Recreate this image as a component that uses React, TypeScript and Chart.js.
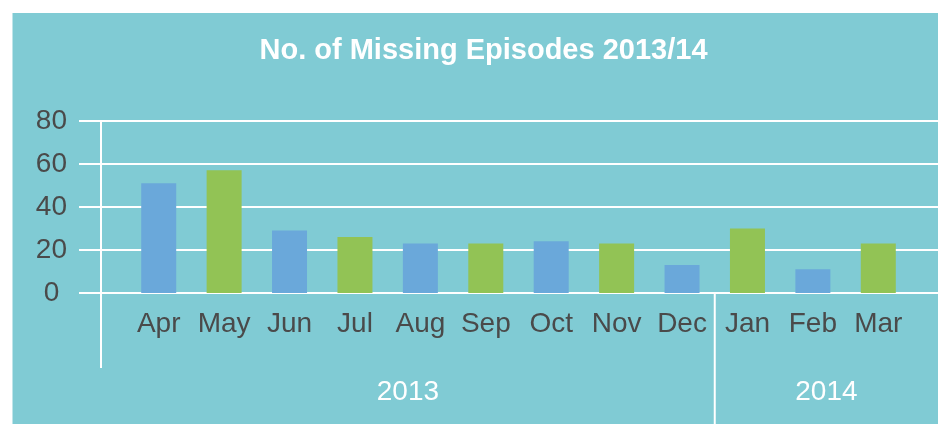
import React, { useEffect, useRef } from "react";
import { Chart, registerables } from "chart.js";

Chart.register(...registerables);

const months = ["Apr", "May", "Jun", "Jul", "Aug", "Sep", "Oct", "Nov", "Dec", "Jan", "Feb", "Mar"];
const episodes = [51, 57, 29, 26, 23, 23, 24, 23, 13, 30, 11, 23];
const barColors = ["#6AA8DA", "#92C355"];
const years = ["2013", "2014"];
const monthsPerYear = [9, 3];
const yTicks = [0, 20, 40, 60, 80];
const title = "No. of Missing Episodes 2013/14";

const PANEL = "#80CBD4";
const TEXT = "#4A4A4A";
const FONT = "'Liberation Sans', Arial, Helvetica, sans-serif";

const decorPlugin = {
  id: "decor",
  afterLayout(chart: any) {
    // centre the title over the whole panel rather than the padded box
    const tb = chart.titleBlock;
    if (tb) {
      tb.left += 28;
      tb.right += 28;
    }
  },
  beforeDraw(chart: any) {
    const { ctx, width, height } = chart;
    ctx.save();
    ctx.fillStyle = "#ffffff";
    ctx.fillRect(0, 0, width, height);
    ctx.fillStyle = PANEL;
    ctx.fillRect(12.5, 13, width - 12.5, height - 13);
    ctx.restore();
  },
  beforeDatasetsDraw(chart: any) {
    const { ctx, chartArea, width, height, scales } = chart;
    const y = scales.y;
    const x = scales.x;
    ctx.save();
    ctx.strokeStyle = "#ffffff";
    ctx.lineWidth = 2;
    yTicks.forEach((v) => {
      const py = Math.round(y.getPixelForValue(v));
      ctx.beginPath();
      ctx.moveTo(chartArea.left - 47, py);
      ctx.lineTo(width, py);
      ctx.stroke();
    });
    const axisX = chartArea.left - 25;
    ctx.beginPath();
    ctx.moveTo(axisX, y.getPixelForValue(80));
    ctx.lineTo(axisX, chartArea.bottom + 75);
    ctx.stroke();
    let start = 0;
    let leftEdge = axisX;
    ctx.fillStyle = "#ffffff";
    ctx.font = "28px " + FONT;
    ctx.textAlign = "center";
    ctx.textBaseline = "alphabetic";
    years.forEach((yr, i) => {
      const end = start + monthsPerYear[i] - 1;
      let rightEdge: number;
      if (end + 1 < months.length) {
        rightEdge = (x.getPixelForValue(end) + x.getPixelForValue(end + 1)) / 2;
        ctx.beginPath();
        ctx.moveTo(rightEdge, chartArea.bottom);
        ctx.lineTo(rightEdge, height);
        ctx.stroke();
      } else {
        rightEdge = width;
      }
      ctx.fillText(yr, (leftEdge + rightEdge) / 2, chartArea.bottom + 107);
      leftEdge = rightEdge;
      start = end + 1;
    });
    ctx.restore();
  },
};

export default function App() {
  const ref = useRef<HTMLCanvasElement>(null);

  useEffect(() => {
    if (!ref.current) return;
    const chart = new Chart(ref.current, {
      type: "bar",
      data: {
        labels: months,
        datasets: [
          {
            label: "Missing episodes",
            data: episodes,
            backgroundColor: months.map((_, i) => barColors[i % 2]),
            borderWidth: 0,
            barPercentage: 0.535,
            categoryPercentage: 1,
          },
        ],
      },
      options: {
        responsive: false,
        animation: false,
        layout: { padding: { left: 0, right: 27, top: 0, bottom: 84 } },
        plugins: {
          legend: { display: false },
          tooltip: { enabled: false },
          title: {
            display: true,
            text: title,
            color: "#ffffff",
            font: { family: FONT, size: 29, weight: "bold" },
            padding: { top: 34, bottom: 52 },
          },
        },
        scales: {
          x: {
            grid: { display: false, drawTicks: false },
            border: { display: false },
            afterFit: (s: any) => {
              s.height = 47;
            },
            ticks: {
              color: TEXT,
              font: { family: FONT, size: 28 },
              padding: 14,
              maxRotation: 0,
              autoSkip: false,
            },
          },
          y: {
            min: 0,
            max: 80,
            grid: { display: false, drawTicks: false },
            border: { display: false },
            afterFit: (s: any) => {
              s.width = 126;
            },
            afterBuildTicks: (s: any) => {
              s.ticks = yTicks.map((v) => ({ value: v }));
            },
            ticks: {
              color: TEXT,
              font: { family: FONT, size: 28 },
              padding: 59,
              crossAlign: "center",
            },
          },
        },
      },
      plugins: [decorPlugin],
    });
    return () => chart.destroy();
  }, []);

  return (
    <canvas
      ref={ref}
      width={938}
      height={424}
      style={{ position: "absolute", left: 0, top: 0, width: 938, height: 424 }}
    />
  );
}
